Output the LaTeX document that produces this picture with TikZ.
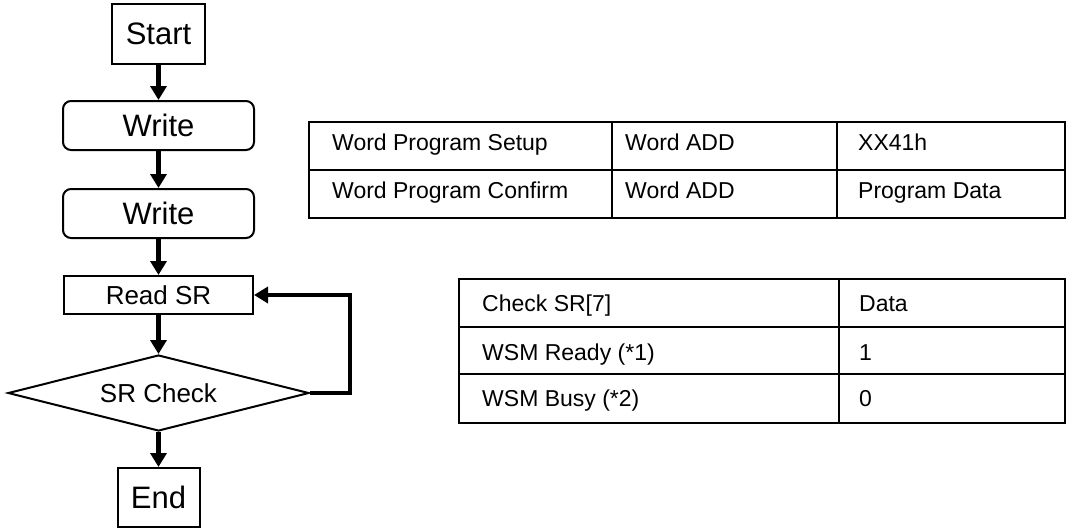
\documentclass[tikz,border=0pt]{standalone}
\usepackage{fontspec}
\setmainfont{Liberation Sans}
\usetikzlibrary{arrows.meta,shapes.geometric}

\tikzset{
  box/.style={draw,line width=2pt,inner sep=0pt},
  bigtxt/.style={font=\fontsize{31}{36}\selectfont},
  midtxt/.style={font=\fontsize{26}{30}\selectfont},
  celltxt/.style={font=\fontsize{23}{27}\selectfont,anchor=base west,inner sep=0pt},
  flow/.style={line width=4.5pt,-{Triangle[width=16pt,length=14pt]}},
  grid/.style={line width=2.6pt,line cap=rect}
}

\begin{document}
\begin{tikzpicture}[x=1pt,y=-1pt]
  \useasboundingbox (0,0) rectangle (1068,528);

  % flowchart
  \node[box,bigtxt,minimum width=93pt,minimum height=60pt] (start) at (158.5,34) {Start};
  \node[box,bigtxt,rounded corners=8pt,minimum width=191pt,minimum height=49pt] (w1) at (158.5,125.5) {Write};
  \node[box,bigtxt,rounded corners=8pt,minimum width=191pt,minimum height=49pt] (w2) at (158.5,213.5) {Write};
  \node[box,midtxt,minimum width=189pt,minimum height=38pt] (rd) at (158.5,295) {Read SR};
  \node[box,midtxt,diamond,aspect=3.96,minimum width=301pt,minimum height=76pt] (chk) at (158.5,393) {SR Check};
  \node[box,bigtxt,minimum width=82pt,minimum height=59pt] (end) at (158.5,497.5) {End};

  \draw[flow] (start) -- (w1);
  \draw[flow] (w1) -- (w2);
  \draw[flow] (w2) -- (rd);
  \draw[flow] (rd) -- (chk);
  \draw[flow] (chk) -- (end);
  \draw[flow] (chk.east) -- ++(40,0) |- (rd.east);

  % command table
  \draw[grid] (309,122) rectangle (1065,218);
  \draw[grid] (309,170) -- (1065,170);
  \draw[grid] (612,122) -- (612,218);
  \draw[grid] (837,122) -- (837,218);
  \node[celltxt] (c11) at (332,150) {Word Program Setup};
  \node[celltxt] (c12) at (625,150) {Word ADD};
  \node[celltxt] (c13) at (858,150) {XX41h};
  \node[celltxt] (c21) at (332,198) {Word Program Confirm};
  \node[celltxt] (c22) at (625,198) {Word ADD};
  \node[celltxt] (c23) at (858,198) {Program Data};

  % status table
  \draw[grid] (459,279) rectangle (1065,423);
  \draw[grid] (459,327) -- (1065,327);
  \draw[grid] (459,374) -- (1065,374);
  \draw[grid] (839,279) -- (839,423);
  \node[celltxt] (s11) at (482,311.5) {Check SR[7]};
  \node[celltxt] (s12) at (859,311.5) {Data};
  \node[celltxt] (s21) at (482,360) {WSM Ready (*1)};
  \node[celltxt] (s22) at (859,360) {1};
  \node[celltxt] (s31) at (482,406.5) {WSM Busy (*2)};
  \node[celltxt] (s32) at (859,406.5) {0};
\end{tikzpicture}
\end{document}
